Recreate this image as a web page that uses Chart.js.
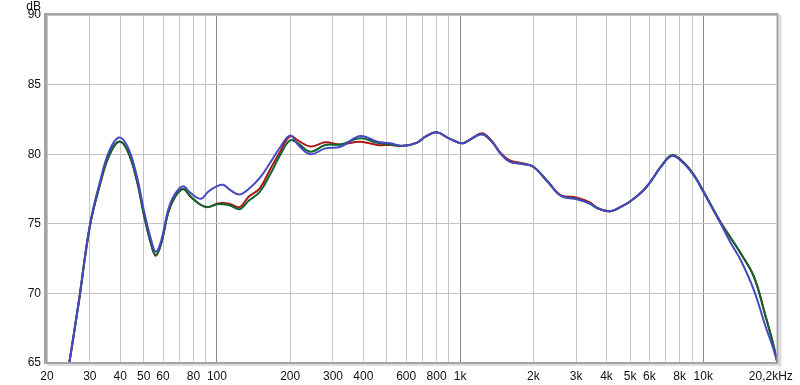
<!DOCTYPE html>
<html>
<head>
<meta charset="utf-8">
<script src="https://cdn.jsdelivr.net/npm/chart.js@4/dist/chart.umd.min.js"></script>
<style>
  body { margin: 0; background: #fff; }
</style>
</head>
<body>
<canvas id="grafico" width="800" height="385"></canvas>
<script>
// frequencies (Hz) shared by the three curves
const freqs = [24.7, 27, 30, 33, 36, 39.5, 43, 47, 50, 53.5, 56, 59, 63, 67, 72.5, 78, 86, 92, 100, 106,
  114, 124, 135, 150, 165, 182, 200, 215, 242, 279, 322, 389, 456, 517, 585, 666, 720, 800, 900, 1020,
  1120, 1232, 1350, 1466, 1600, 1800, 2000, 2300, 2600, 3000, 3400, 3700, 4150, 4600, 5000, 5600, 6000, 6700, 7450, 8300,
  9200, 10000, 11800, 13000, 14250, 16150, 18060, 19200, 20200];

const rojo = [65, 69.3, 74.8, 77.8, 79.9, 80.9, 80.2, 78.0, 75.7, 73.6, 72.7, 73.6, 75.8, 76.9, 77.5, 76.95, 76.35, 76.2, 76.45, 76.5,
  76.4, 76.2, 76.95, 77.55, 78.87, 80.2, 81.3, 81.0, 80.55, 80.85, 80.7, 80.9, 80.66, 80.66, 80.6, 80.83, 81.26, 81.57, 81.14, 80.78,
  81.14, 81.5, 80.95, 80.1, 79.55, 79.35, 79.1, 78.0, 77.05, 76.9, 76.55, 76.1, 75.9, 76.23, 76.6, 77.3, 77.9, 79.1, 79.92, 79.4,
  78.45, 77.35, 75.1, 73.96, 72.88, 71.2, 68.33, 66.65, 65];

const verde = [65, 69.3, 74.8, 77.8, 79.9, 80.9, 80.2, 78.0, 75.7, 73.6, 72.75, 73.6, 75.8, 76.9, 77.5, 76.95, 76.35, 76.2, 76.4, 76.4,
  76.3, 76.05, 76.65, 77.3, 78.5, 79.94, 81.0, 80.8, 80.18, 80.66, 80.7, 81.14, 80.83, 80.7, 80.6, 80.83, 81.26, 81.57, 81.14, 80.78,
  81.14, 81.43, 80.9, 80.06, 79.46, 79.3, 79.1, 78.0, 77.0, 76.8, 76.47, 76.1, 75.9, 76.23, 76.6, 77.3, 77.9, 79.1, 79.92, 79.4,
  78.45, 77.35, 75.1, 73.96, 72.88, 71.2, 68.33, 66.65, 65];

const azul = [65, 69.4, 74.9, 78.0, 80.2, 81.2, 80.5, 78.3, 76.0, 73.9, 73.0, 73.8, 76.0, 77.1, 77.7, 77.2, 76.8, 77.3, 77.7, 77.8,
  77.4, 77.1, 77.5, 78.3, 79.35, 80.5, 81.35, 80.7, 80.0, 80.42, 80.54, 81.3, 80.9, 80.78, 80.6, 80.83, 81.26, 81.57, 81.14, 80.78,
  81.14, 81.43, 80.9, 80.06, 79.46, 79.3, 79.1, 78.0, 77.0, 76.78, 76.47, 76.1, 75.9, 76.23, 76.6, 77.3, 77.9, 79.1, 79.87, 79.35,
  78.4, 77.3, 75.0, 73.6, 72.4, 70.24, 67.6, 66.3, 65];

// x grid positions and their labels ('' = line without label)
const ticksX = [20, 30, 40, 50, 60, 70, 80, 90, 100, 200, 300, 400, 500, 600, 700, 800, 900, 1000,
  2000, 3000, 4000, 5000, 6000, 7000, 8000, 9000, 10000, 20200];
const etiquetasX = ['20', '30', '40', '50', '60', '', '80', '', '100', '200', '300', '400', '', '600', '', '800', '', '1k',
  '2k', '3k', '4k', '5k', '6k', '', '8k', '', '10k', '20,2kHz\u00a0\u00a0\u00a0\u00a0'];
const decadas = [100, 1000, 10000];

const puntos = arr => arr.map((v, i) => ({ x: freqs[i], y: v }));

// marco gris alrededor del area del grafico + "dB"
const marco = {
  id: 'marco',
  afterDatasetsDraw(chart) {
    const { ctx, chartArea: a } = chart;
    ctx.save();
    // sombra clara a la derecha y abajo
    ctx.fillStyle = '#dedede';
    ctx.fillRect(a.right + 1, a.top, 3, a.bottom - a.top + 4);
    ctx.fillRect(a.left, a.bottom + 1, a.right - a.left + 4, 2);
    ctx.strokeStyle = '#a4a4a4';
    ctx.lineWidth = 2;
    ctx.strokeRect(a.left - 1, a.top - 1, a.right - a.left + 1, a.bottom - a.top + 1);
    ctx.fillStyle = '#a4a4a4';
    ctx.fillRect(a.left - 3, a.top - 2, 2, a.bottom - a.top + 3);
    ctx.font = '12px "Liberation Sans", Arial, sans-serif';
    ctx.fillStyle = '#111';
    ctx.textAlign = 'right';
    ctx.textBaseline = 'top';
    ctx.fillText('dB', 41, 1);
    ctx.restore();
  }
};

const linea = (label, data, color, order) => ({
  label, data: puntos(data), borderColor: color, borderWidth: 2,
  pointRadius: 0, tension: 0.4, fill: false, order
});

new Chart(document.getElementById('grafico'), {
  type: 'line',
  data: {
    datasets: [
      linea('rojo', rojo, '#b01414', 3),
      linea('verde', verde, '#0b6630', 2),
      linea('azul', azul, '#4848c4', 1)
    ]
  },
  options: {
    responsive: false,
    animation: false,
    layout: { padding: { top: 15, right: 22.5, left: 0, bottom: 0 } },
    plugins: { legend: { display: false }, tooltip: { enabled: false } },
    scales: {
      x: {
        type: 'logarithmic',
        min: 20,
        max: 20200,
        afterBuildTicks: scale => { scale.ticks = ticksX.map(v => ({ value: v })); },
        afterFit: scale => { scale.height = 22; scale.paddingLeft = 0; scale.paddingRight = 0; },
        border: { display: false },
        grid: {
          drawTicks: false,
          color: c => decadas.includes(c.tick && c.tick.value) ? '#8c8c8c' : '#c6c6c6'
        },
        ticks: {
          autoSkip: false,
          maxRotation: 0,
          minRotation: 0,
          padding: 6,
          color: '#111',
          font: { family: '"Liberation Sans", Arial, sans-serif', size: 12 },
          callback: (v, i) => etiquetasX[i]
        }
      },
      y: {
        min: 65,
        max: 90,
        afterFit: scale => { scale.width = 47; },
        border: { display: false },
        grid: { drawTicks: false, color: '#c2c2c2' },
        ticks: {
          stepSize: 5,
          padding: 6,
          color: '#111',
          font: { family: '"Liberation Sans", Arial, sans-serif', size: 12 }
        }
      }
    }
  },
  plugins: [marco]
});
</script>
</body>
</html>
